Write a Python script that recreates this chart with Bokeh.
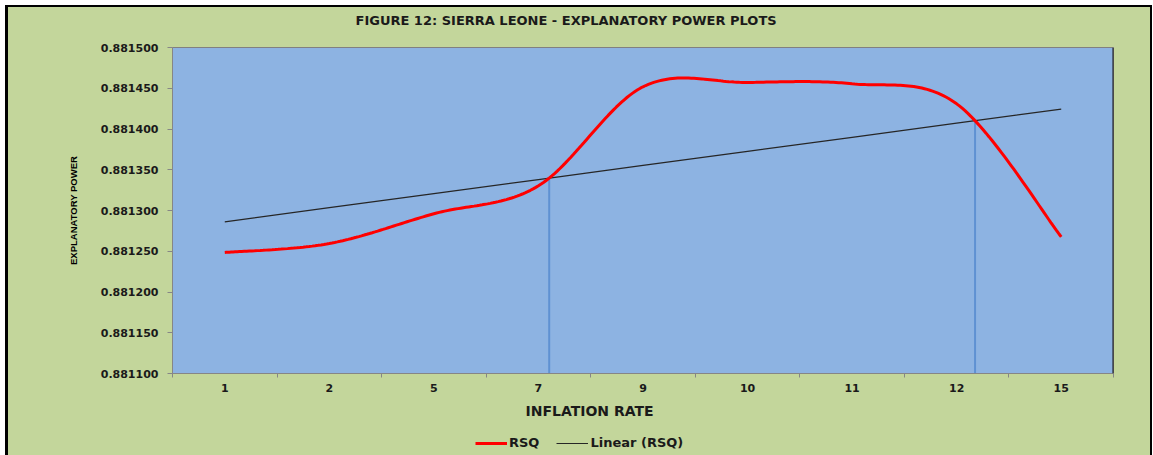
import numpy as np
from bokeh.plotting import figure
from bokeh.layouts import column
from bokeh.models import (Range1d, FixedTicker, PrintfTickFormatter, Title, Legend,
                          LegendItem, Span, Label)
from bokeh.embed import file_html
from bokeh.resources import INLINE

# ---- data ----
categories = ["1", "2", "5", "7", "9", "10", "11", "12", "15"]
rsq = [0.8812485, 0.8812595, 0.8812960, 0.8813303, 0.8814518,
       0.8814571, 0.8814555, 0.8814309, 0.8812677]
y_ticks = [0.881100, 0.881150, 0.881200, 0.881250, 0.881300,
           0.881350, 0.881400, 0.881450, 0.881500]

title_text = "FIGURE 12: SIERRA LEONE - EXPLANATORY POWER PLOTS"
x_title = "INFLATION RATE"
y_title = "EXPLANATORY POWER"
series_names = ["RSQ", "Linear (RSQ)"]

GREEN = "#c3d69b"
BLUE = "#8db3e2"
RED = "#ff0000"
TREND = "#262626"
W = 1142
ML, MR = 164, 37

# ---- derived ----
n = len(categories)
xs = np.arange(n) + 0.5
ys = np.array(rsq)


def smooth(x, y, per=40):
    pts = np.column_stack([x, y])
    P = np.vstack([pts[0], pts, pts[-1]])
    out = []
    for i in range(len(pts) - 1):
        p0, p1, p2, p3 = P[i], P[i + 1], P[i + 2], P[i + 3]
        c1 = p1 + (p2 - p0) / 6.0
        c2 = p2 - (p3 - p1) / 6.0
        t = np.linspace(0, 1, per)[:, None]
        seg = (1 - t) ** 3 * p1 + 3 * (1 - t) ** 2 * t * c1 + 3 * (1 - t) * t ** 2 * c2 + t ** 3 * p2
        out.append(seg if i == 0 else seg[1:])
    s = np.vstack(out)
    return s[:, 0], s[:, 1]


sx, sy = smooth(xs, ys)
slope, icpt = np.polyfit(xs, ys, 1)
trend = slope * xs + icpt

# crossings of the smooth curve and the trend line
diff = sy - (slope * sx + icpt)
cross_x = []
for i in range(len(diff) - 1):
    if diff[i] == 0 or diff[i] * diff[i + 1] < 0:
        f = diff[i] / (diff[i] - diff[i + 1])
        cross_x.append(sx[i] + f * (sx[i + 1] - sx[i]))
cross_x = np.array(cross_x)
cross_y = slope * cross_x + icpt

SIDE_SHADOW = "-3px 0 0 0 #000000, 2px 0 0 0 #000000"


def strip(h):
    f = figure(width=W, height=h, output_backend="svg", toolbar_location=None,
               x_range=Range1d(0, n), y_range=Range1d(0, h),
               x_axis_location=None, y_axis_location=None,
               min_border_left=ML, min_border_right=MR, min_border_top=0,
               min_border_bottom=0, background_fill_color=GREEN,
               border_fill_color=GREEN, title_location=None)
    f.outline_line_color = GREEN
    f.outline_line_width = 2
    f.grid.visible = False
    return f


# ---- title strip ----
top = strip(26)
top.add_layout(Label(x=0, y=13, x_offset=183, text=title_text, text_font="DejaVu Sans",
                     text_font_style="bold", text_font_size="13px",
                     text_color="#1a1a1a", text_align="left",
                     text_baseline="middle"))
top.styles = {"box-shadow": "-3px -2px 0 0 #000000, 2px -2px 0 0 #000000, " + SIDE_SHADOW}

# ---- main chart ----
p = figure(width=W, height=397, output_backend="svg", toolbar_location=None,
           x_range=Range1d(0, n), y_range=Range1d(y_ticks[0], y_ticks[-1]),
           min_border_left=ML, min_border_right=MR, min_border_top=14,
           min_border_bottom=57, title_location=None,
           background_fill_color=BLUE, border_fill_color=GREEN)
p.styles = {"box-shadow": SIDE_SHADOW}
p.outline_line_color = "#808080"
p.outline_line_width = 1
p.xgrid.visible = False
p.ygrid.visible = False

# drop lines
p.segment(x0=cross_x, y0=cross_y, x1=cross_x, y1=[y_ticks[0]] * len(cross_x),
          line_color="#5f91d2", line_width=2)
p.line(xs, trend, line_color=TREND, line_width=1.2)
p.line(sx, sy, line_color=RED, line_width=3)

p.add_layout(Span(location=n, dimension="height", line_color="#111111", line_width=2))

xa = p.xaxis[0]
xa.ticker = FixedTicker(ticks=list(xs), minor_ticks=list(range(n + 1)))
xa.major_label_overrides = {float(x): c for x, c in zip(xs, categories)}
xa.major_tick_line_color = None
xa.major_tick_out = 0
xa.major_tick_in = 0
xa.minor_tick_line_color = "#868686"
xa.minor_tick_out = 4
xa.minor_tick_in = 0
xa.axis_line_color = "#868686"
xa.major_label_standoff = 6
xa.major_label_text_font = "DejaVu Sans"
xa.major_label_text_font_style = "bold"
xa.major_label_text_font_size = "11px"
xa.major_label_text_color = "#1a1a1a"

ya = p.yaxis[0]
ya.ticker = FixedTicker(ticks=y_ticks, minor_ticks=[])
ya.formatter = PrintfTickFormatter(format="%.6f")
ya.major_tick_line_color = "#868686"
ya.major_tick_out = 5
ya.major_tick_in = 0
ya.minor_tick_line_color = None
ya.axis_line_color = "#868686"
ya.major_label_standoff = 9
ya.major_label_text_font = "DejaVu Sans"
ya.major_label_text_font_style = "bold"
ya.major_label_text_font_size = "11px"
ya.major_label_text_color = "#1a1a1a"
ya.axis_label = y_title
ya.axis_label_text_font = "Liberation Sans"
ya.axis_label_text_font_style = "bold"
ya.axis_label_text_font_size = "9.5px"
ya.axis_label_text_color = "#000000"
ya.axis_label_standoff = 19

xt = Title(text=x_title, align="left", offset=353, text_font="DejaVu Sans",
           text_font_style="bold", text_font_size="14px", text_color="#1a1a1a",
           standoff=13)
p.add_layout(xt, "below")

# ---- legend strip ----
bot = strip(25)
bot.styles = {"box-shadow": SIDE_SHADOW}
# legend proxies (kept outside the visible range of the strip)
g_rsq = bot.line(x=[0, 1], y=[-100, -100], line_color=RED, line_width=3)
g_trend = bot.line(x=[0, 1], y=[-100, -100], line_color=TREND, line_width=1)
legend = Legend(items=[LegendItem(label=series_names[0], renderers=[g_rsq]),
                       LegendItem(label=series_names[1], renderers=[g_trend])],
                orientation="horizontal", location=(303, 5),
                glyph_width=32, glyph_height=12, label_standoff=2, spacing=17,
                padding=0, margin=0, background_fill_alpha=0, border_line_color=None,
                label_text_font="DejaVu Sans", label_text_font_style="bold",
                label_text_font_size="13px", label_text_color="#1a1a1a")
bot.add_layout(legend)

layout = column(top, p, bot, spacing=0, margin=(7, 0, 0, 8),
                styles={"background-color": GREEN})

open("out.html", "w").write(file_html(layout, INLINE))
